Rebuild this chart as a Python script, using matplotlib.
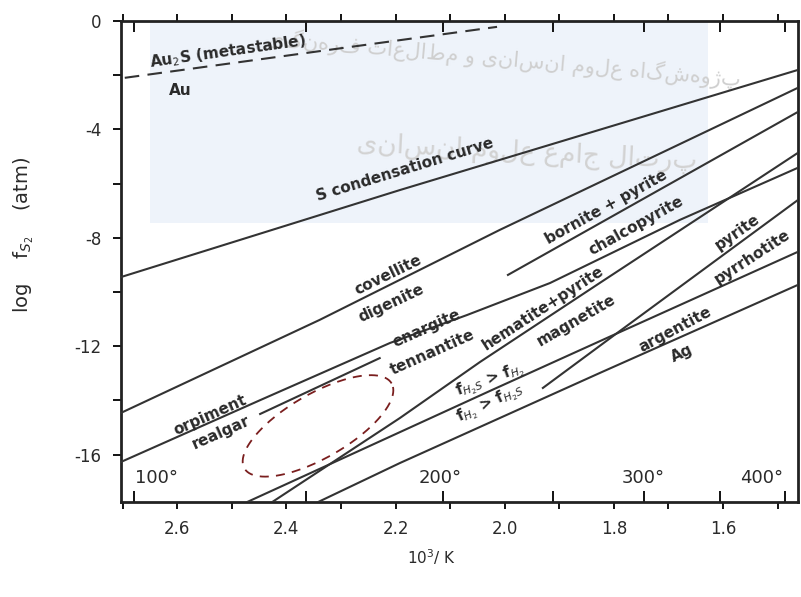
import numpy as np
import matplotlib
matplotlib.use("Agg")
import matplotlib.pyplot as plt

# reaction lines, x = 10^3/K, y = log fS2
s_cond_x = [2.703, 2.192, 1.463]
s_cond_y = [-9.45, -6.24, -1.81]
covellite_x = [2.703, 2.339, 2.009, 1.463]
covellite_y = [-14.46, -11.03, -7.71, -2.47]
bornite_x = [1.994, 1.463]
bornite_y = [-9.37, -3.36]
orpiment_x = [2.703, 2.448, 2.210, 2.069, 1.917, 1.679, 1.463]
orpiment_y = [-16.27, -13.99, -11.88, -10.85, -9.67, -7.34, -5.42]
enargite_x = [2.448, 2.229]
enargite_y = [-14.50, -12.44]
hematite_x = [2.426, 2.192, 2.045, 1.826, 1.630, 1.463]
hematite_y = [-17.75, -14.65, -12.58, -9.67, -7.08, -4.87]
h2s_x = [2.472, 2.027, 1.789, 1.463]
h2s_y = [-17.75, -13.65, -11.48, -8.52]
pyrite_x = [1.930, 1.789, 1.463]
pyrite_y = [-13.54, -11.44, -6.61]
argentite_x = [2.342, 2.192, 1.826, 1.463]
argentite_y = [-17.75, -16.31, -12.99, -9.74]
au_x = [2.696, 2.014]
au_y = [-2.10, -0.22]

temps_c = [100, 150, 200, 250, 300, 350, 400]
temp_labels = ["100°", "200°", "300°", "400°"]
temp_label_x = [2.637, 2.119, 1.747, 1.529]

labels = [
    ("Au$_2$S (metastable)", 2.507, -1.14, 8),
    ("Au", 2.595, -2.55, 0),
    ("S condensation curve", 2.183, -5.50, 17),
    ("covellite", 2.214, -9.37, 26),
    ("digenite", 2.207, -10.41, 25),
    ("orpiment", 2.540, -14.54, 24),
    ("realgar", 2.520, -15.20, 24),
    ("enargite", 2.143, -11.33, 24),
    ("tennantite", 2.133, -12.21, 24),
    ("bornite + pyrite", 1.813, -6.86, 29),
    ("chalcopyrite", 1.760, -7.56, 29),
    ("hematite+pyrite", 1.930, -10.59, 33),
    ("magnetite", 1.868, -11.03, 30),
    ("f$_{H_2S}$ > f$_{H_2}$", 2.027, -13.25, 20),
    ("f$_{H_2}$ > f$_{H_2S}$", 2.027, -14.10, 25),
    ("pyrite", 1.573, -7.79, 35),
    ("pyrrhotite", 1.547, -8.71, 33),
    ("argentite", 1.688, -11.40, 28),
    ("Ag", 1.676, -12.25, 25),
]

# dashed ellipse (centre in data units, axes in pixels)
ell_cx, ell_cy = 2.342, -14.94
ell_a, ell_b, ell_ang = 85, 32, 30

fig = plt.figure(figsize=(8.01, 5.97), dpi=100)
ax = fig.add_axes([0.151, 0.159, 0.845, 0.806])
ax.set_xlim(2.703, 1.463)
ax.set_ylim(-17.75, 0)

# pale watermark box
ax.fill([2.650, 1.628, 1.628, 2.650], [-0.05, -0.05, -7.45, -7.45],
        color="#eef3fa", zorder=0, lw=0)
wm1 = "پژوهشگاه علوم انسانی و مطالعات فرهنگی"
wm2 = "پرتال جامع علوم انسانی"
ax.text(2.00, -1.4, wm1[::-1], fontsize=15, color="#cfcfcf", ha="center",
        va="center", rotation=-5, family="DejaVu Sans", zorder=1)
ax.text(1.96, -4.9, wm2[::-1], fontsize=19, color="#d2d2d2", ha="center",
        va="center", rotation=-3, family="DejaVu Sans", zorder=1)

lc = "#333333"
for xs, ys in [(s_cond_x, s_cond_y), (covellite_x, covellite_y),
               (bornite_x, bornite_y), (orpiment_x, orpiment_y),
               (enargite_x, enargite_y), (hematite_x, hematite_y),
               (h2s_x, h2s_y), (pyrite_x, pyrite_y),
               (argentite_x, argentite_y)]:
    ax.plot(xs, ys, color=lc, lw=1.5, zorder=3)
ax.plot(au_x, au_y, color=lc, lw=1.5, ls=(0, (7, 4)), zorder=3)

for txt, x, y, rot in labels:
    ax.text(x, y, txt, fontsize=11, fontweight="bold", color="#2a2a2a",
            rotation=rot, ha="center", va="center", rotation_mode="anchor",
            zorder=4)

for txt, x in zip(temp_labels, temp_label_x):
    ax.text(x, -16.85, txt, fontsize=13, color="#2a2a2a", ha="center",
            va="center")

# ellipse drawn in pixel space
pxx = 0.845 * 801 / (2.703 - 1.463)
pxy = 0.806 * 597 / 17.75
t = np.linspace(0, 2 * np.pi, 200)
th = np.radians(ell_ang)
dx = ell_a * np.cos(t) * np.cos(th) - ell_b * np.sin(t) * np.sin(th)
dy = ell_a * np.cos(t) * np.sin(th) + ell_b * np.sin(t) * np.cos(th)
ax.plot(ell_cx - dx / pxx, ell_cy + dy / pxy, color="#7a1e1e", lw=1.3,
        ls=(0, (5, 4)), zorder=4)

# ticks
ax.set_xticks([2.6, 2.4, 2.2, 2.0, 1.8, 1.6])
ax.set_xticklabels(["2.6", "2.4", "2.2", "2.0", "1.8", "1.6"])
ax.set_xticks(np.arange(1.5, 2.71, 0.1), minor=True)
ax.set_yticks([0, -4, -8, -12, -16])
ax.set_yticklabels(["0", "-4", "-8", "-12", "-16"])
ax.set_yticks(np.arange(-16, 0.1, 2), minor=True)
ax.tick_params(axis="x", which="both", direction="out", top=True,
               length=5, width=1.3, labelsize=12, labelcolor="#2a2a2a", pad=8)
ax.tick_params(axis="y", which="both", direction="out", length=6, width=1.3,
               labelsize=12, labelcolor="#2a2a2a", pad=8)

temp_x = [1000.0 / (tc + 273.15) for tc in temps_c]
for side in ["bottom", "top"]:
    sec = ax.secondary_xaxis(side)
    sec.set_xticks(temp_x)
    sec.tick_params(direction="in", length=8, width=1.3, labelbottom=False,
                    labeltop=False)
    for s in sec.spines.values():
        s.set_visible(False)

for s in ax.spines.values():
    s.set_linewidth(2)
    s.set_color("#222222")

ax.set_ylabel("log    f$_{S_2}$    (atm)", fontsize=14, color="#2a2a2a")
ax.yaxis.set_label_coords(-0.125, 0.555)
ax.set_xlabel("10$^3$/ K", fontsize=11, color="#2a2a2a")
ax.xaxis.set_label_coords(0.459, -0.095)

fig.savefig("out.png", dpi=100)
